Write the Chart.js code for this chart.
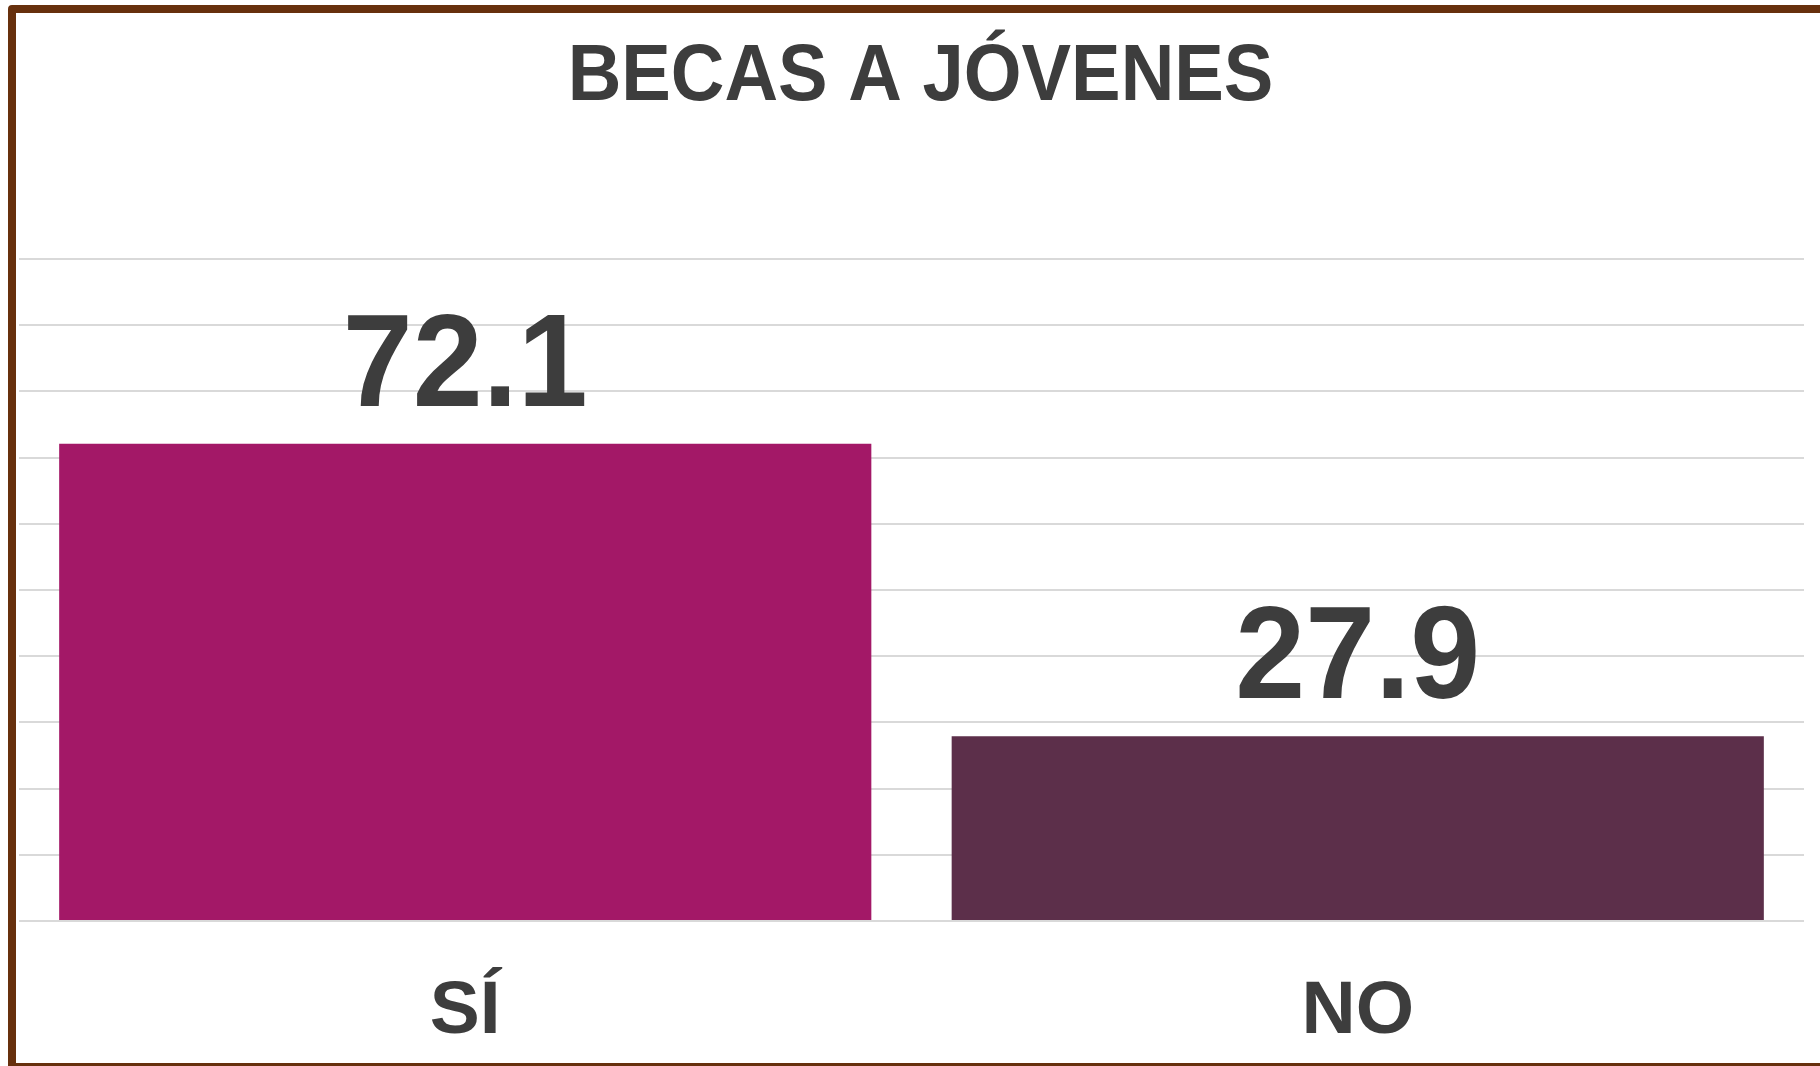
<!DOCTYPE html>
<html>
<head>
<meta charset="utf-8">
<script src="https://cdn.jsdelivr.net/npm/chart.js@4.4.1/dist/chart.umd.min.js"></script>
<style>
  html, body { margin: 0; padding: 0; background: #ffffff; overflow: hidden; }
  #wrap { position: relative; width: 1820px; height: 1066px; }
  #c { position: absolute; left: 0; top: 0; }
  #frame { position: absolute; left: 8px; top: 5px; width: 1840px; height: 1050px;
           border: 8px solid #67300d; border-radius: 4px; pointer-events: none; }
</style>
</head>
<body>
<div id="wrap">
  <canvas id="c" width="1820" height="1066"></canvas>
  <div id="frame"></div>
</div>
<script>
const titleText = 'BECAS A JÓVENES';
const categories = ['SÍ', 'NO'];
const values = [72.1, 27.9];
const barColors = ['#a31867', '#5c2f4a'];
const yTicks = [0, 10, 20, 30, 40, 50, 60, 70, 80, 90, 100];

const FONT = '"Liberation Sans", Arial, Helvetica, sans-serif';
const TEXT = '#3d3d3d';

const titleDraw = {
  id: 'titleDraw',
  afterDraw(chart) {
    const ctx = chart.ctx;
    const cx = (chart.chartArea.left + chart.chartArea.right) / 2 + 9;
    ctx.save();
    ctx.font = 'bold 79px ' + FONT;
    ctx.fillStyle = TEXT;
    ctx.textAlign = 'center';
    ctx.textBaseline = 'alphabetic';
    ctx.translate(cx, 100);
    ctx.scale(0.94, 1);
    ctx.fillText(titleText, 0, 0);
    ctx.restore();
  }
};

const valueLabels = {
  id: 'valueLabels',
  afterDatasetsDraw(chart) {
    const ctx = chart.ctx;
    const meta = chart.getDatasetMeta(0);
    ctx.save();
    ctx.font = 'bold 131px ' + FONT;
    ctx.fillStyle = TEXT;
    ctx.textAlign = 'center';
    ctx.textBaseline = 'alphabetic';
    meta.data.forEach((bar, i) => {
      ctx.save();
      ctx.translate(bar.x, bar.y - 38);
      ctx.scale(0.96, 1);
      ctx.fillText(values[i].toFixed(1), 0, 0);
      ctx.restore();
    });
    ctx.restore();
  }
};

new Chart(document.getElementById('c'), {
  type: 'bar',
  data: {
    labels: categories,
    datasets: [{
      data: values,
      backgroundColor: barColors,
      borderWidth: 0,
      barPercentage: 0.91,
      categoryPercentage: 1.0
    }]
  },
  options: {
    responsive: false,
    animation: false,
    devicePixelRatio: 1,
    layout: { padding: { left: 19, right: 16, top: 259, bottom: -37 } },
    plugins: {
      legend: { display: false },
      tooltip: { enabled: false },
      title: { display: false }
    },
    scales: {
      x: {
        grid: { display: false, drawTicks: false },
        border: { display: false },
        ticks: {
          color: TEXT,
          padding: 46,
          font: { family: FONT, size: 75, weight: 'bold' }
        }
      },
      y: {
        min: 0,
        max: 100,
        afterBuildTicks(scale) { scale.ticks = yTicks.map(v => ({ value: v })); },
        grid: { color: '#d9d9d9', lineWidth: 2, drawTicks: false },
        border: { display: false },
        ticks: { display: false }
      }
    }
  },
  plugins: [valueLabels, titleDraw]
});
</script>
</body>
</html>
